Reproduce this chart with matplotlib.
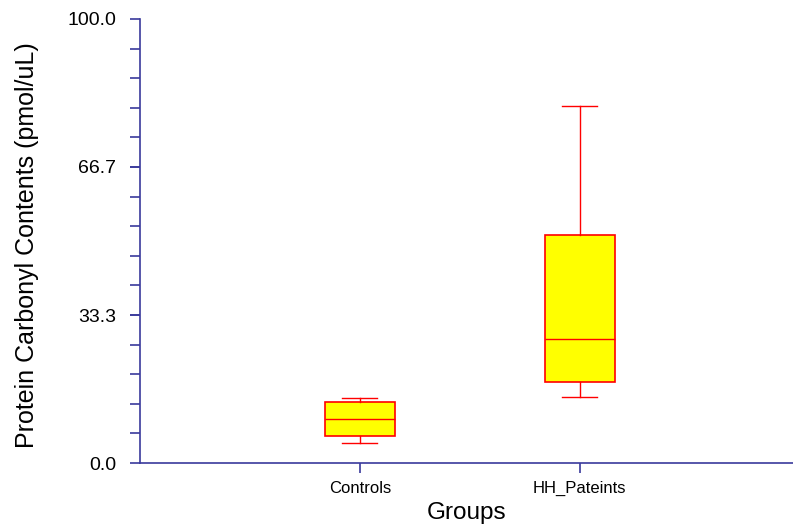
import matplotlib.pyplot as plt
from matplotlib.ticker import FixedLocator, MultipleLocator

plt.rcParams['font.family'] = ['Liberation Sans', 'DejaVu Sans']

# Box plot summary values
groups = ['Controls', 'HH_Pateints']
whislo = [4.5, 14.9]
q1 = [6.1, 18.2]
med = [9.9, 27.9]
q3 = [13.7, 51.4]
whishi = [14.6, 80.4]

axis_col = '#3a3a9c'

stats = []
for i in range(len(groups)):
    stats.append({'label': groups[i], 'whislo': whislo[i], 'q1': q1[i],
                  'med': med[i], 'q3': q3[i], 'whishi': whishi[i], 'fliers': []})

fig = plt.figure(figsize=(7.93, 5.29), dpi=100)
ax = fig.add_axes([140 / 793, 1 - 463 / 529, 1 - 140 / 793, (463 - 19) / 529])

ax.bxp(stats, positions=[1, 2], widths=0.32, patch_artist=True, showfliers=False,
       boxprops=dict(facecolor='#ffff00', edgecolor='#ff0000', linewidth=1.2),
       medianprops=dict(color='#ff0000', linewidth=1.0),
       whiskerprops=dict(color='#ff0000', linewidth=1.0),
       capprops=dict(color='#ff0000', linewidth=1.0),
       capwidths=0.16)

ax.set_xlim(0, 2.97)
ax.set_ylim(0, 100)

ax.yaxis.set_major_locator(FixedLocator([0, 33.3, 66.7, 100]))
ax.set_yticklabels(['0.0', '33.3', '66.7', '100.0'])
ax.yaxis.set_minor_locator(MultipleLocator(100 / 15))

ax.spines['top'].set_visible(False)
ax.spines['right'].set_visible(False)
for s in ['left', 'bottom']:
    ax.spines[s].set_color(axis_col)
    ax.spines[s].set_linewidth(1.2)

ax.tick_params(axis='y', which='major', length=7, width=1.2, color=axis_col,
               labelsize=14, pad=10)
ax.tick_params(axis='y', which='minor', length=7, width=1.2, color=axis_col)
ax.tick_params(axis='x', length=7, width=1.2, color=axis_col, labelsize=12, pad=6)

ax.set_xlabel('Groups', fontsize=17.5, labelpad=4)
ax.set_ylabel('Protein Carbonyl Contents (pmol/uL)', fontsize=18)
ax.yaxis.set_label_coords(-0.155, 0.49)

fig.savefig('out.png', dpi=100)
